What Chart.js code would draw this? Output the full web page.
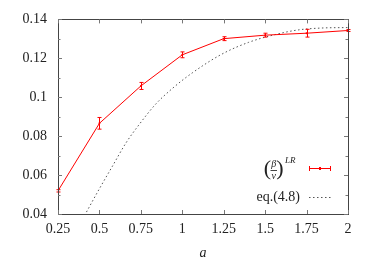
<!DOCTYPE html>
<html>
<head>
<meta charset="utf-8">
<script src="https://cdn.jsdelivr.net/npm/chart.js@4"></script>
<style>
  html, body { margin: 0; padding: 0; background: #fff; }
</style>
</head>
<body>
<canvas id="betaChart" width="374" height="262"></canvas>
<script>
// measured beta/nu (LR) with error bars
const aValues = [0.25, 0.5, 0.75, 1, 1.25, 1.5, 1.75, 2];
const betaNu = [0.0519, 0.0866, 0.1058, 0.1218, 0.1301, 0.1319, 0.1329, 0.1343];
const betaNuErr = [0.0006, 0.003, 0.0018, 0.0015, 0.001, 0.001, 0.002, 0.0005];

// eq.(4.8) curve
const eqA = [0.41, 0.5, 0.58, 0.66, 0.74, 0.84, 0.94, 1.06, 1.24, 1.4, 1.56, 1.7, 1.85, 2];
const eqValues = [0.0392, 0.053, 0.0648, 0.0765, 0.086, 0.0965, 0.1045, 0.1125, 0.1222, 0.1282, 0.1322, 0.1346, 0.1356, 0.1358];

const xTicks = [0.25, 0.5, 0.75, 1, 1.25, 1.5, 1.75, 2];
const yTicks = [0.04, 0.06, 0.08, 0.1, 0.12, 0.14];

const serif = '"Liberation Serif", "DejaVu Serif", serif';
const axisColor = "#444";

const frame = {
  id: "frame",
  afterDatasetsDraw(chart) {
    const { ctx, chartArea: ca, scales } = chart;
    const x = scales.x, y = scales.y;
    ctx.save();

    // error bars
    ctx.strokeStyle = "#ff0000";
    ctx.lineWidth = 1;
    aValues.forEach((a, i) => {
      const px = Math.round(x.getPixelForValue(a)) + 0.5;
      const lo = y.getPixelForValue(betaNu[i] - betaNuErr[i]);
      const hi = y.getPixelForValue(betaNu[i] + betaNuErr[i]);
      ctx.beginPath();
      ctx.moveTo(px, lo); ctx.lineTo(px, hi);
      ctx.moveTo(px - 2, lo); ctx.lineTo(px + 2, lo);
      ctx.moveTo(px - 2, hi); ctx.lineTo(px + 2, hi);
      ctx.stroke();
    });

    // border
    ctx.strokeStyle = axisColor;
    ctx.lineWidth = 1;
    ctx.strokeRect(Math.round(ca.left) + 0.5, Math.round(ca.top) + 0.5,
      Math.round(ca.width), Math.round(ca.height));

    // inward ticks
    ctx.strokeStyle = "#777";
    ctx.beginPath();
    xTicks.forEach(v => {
      const px = Math.round(x.getPixelForValue(v)) + 0.5;
      ctx.moveTo(px, ca.bottom); ctx.lineTo(px, ca.bottom - 4);
      ctx.moveTo(px, ca.top); ctx.lineTo(px, ca.top + 4);
    });
    yTicks.forEach((v, i) => {
      const py = Math.round(y.getPixelForValue(v)) + 0.5;
      ctx.moveTo(ca.left, py); ctx.lineTo(ca.left + 4, py);
      ctx.moveTo(ca.right, py); ctx.lineTo(ca.right - 4, py);
      if (i < yTicks.length - 1) {
        const pm = Math.round(y.getPixelForValue((v + yTicks[i + 1]) / 2)) + 0.5;
        ctx.moveTo(ca.left, pm); ctx.lineTo(ca.left + 2.5, pm);
        ctx.moveTo(ca.right, pm); ctx.lineTo(ca.right - 2.5, pm);
      }
    });
    ctx.stroke();

    // legend
    ctx.fillStyle = "#222";
    ctx.textBaseline = "middle";
    ctx.textAlign = "center";
    ctx.font = "22px " + serif;
    ctx.fillText("(", 267.5, 169);
    ctx.fillText(")", 280, 169);
    ctx.font = "italic 10px " + serif;
    ctx.fillText("β", 273.8, 164);
    ctx.fillText("ν", 273.8, 176);
    ctx.strokeStyle = "#444";
    ctx.beginPath();
    ctx.moveTo(270.5, 170.5); ctx.lineTo(277, 170.5);
    ctx.stroke();
    ctx.textAlign = "left";
    ctx.font = "italic 9px " + serif;
    ctx.fillText("LR", 285, 161);
    ctx.textAlign = "right";
    ctx.font = "14px " + serif;
    ctx.fillText("eq.(4.8)", 300, 197);

    // legend samples
    ctx.strokeStyle = "#ff0000";
    ctx.beginPath();
    ctx.moveTo(309, 168.5); ctx.lineTo(331, 168.5);
    ctx.moveTo(309.5, 166); ctx.lineTo(309.5, 171);
    ctx.moveTo(330.5, 166); ctx.lineTo(330.5, 171);
    ctx.stroke();
    ctx.fillStyle = "#ff0000";
    ctx.fillRect(319, 167, 2, 3);
    ctx.strokeStyle = "#555";
    ctx.setLineDash([1.5, 2.5]);
    ctx.beginPath();
    ctx.moveTo(309, 197.5); ctx.lineTo(331, 197.5);
    ctx.stroke();

    ctx.restore();
  }
};

new Chart(document.getElementById("betaChart").getContext("2d"), {
  type: "scatter",
  data: {
    datasets: [
      {
        label: "LR",
        data: aValues.map((a, i) => ({ x: a, y: betaNu[i] })),
        showLine: true,
        borderColor: "#ff0000",
        backgroundColor: "#ff0000",
        borderWidth: 1,
        pointRadius: 1,
        pointBorderWidth: 0
      },
      {
        label: "eq.(4.8)",
        data: eqA.map((a, i) => ({ x: a, y: eqValues[i] })),
        showLine: true,
        borderColor: "#555",
        borderWidth: 1,
        borderDash: [1.5, 2.5],
        pointRadius: 0,
        cubicInterpolationMode: "monotone"
      }
    ]
  },
  options: {
    responsive: false,
    animation: false,
    events: [],
    layout: { padding: { top: 14, right: 26, left: 0, bottom: 0 } },
    plugins: {
      legend: { display: false },
      tooltip: { enabled: false }
    },
    scales: {
      x: {
        type: "linear",
        min: 0.25,
        max: 2,
        afterBuildTicks: s => { s.ticks = xTicks.map(v => ({ value: v })); },
        afterFit: s => { s.height = 48; },
        grid: { display: false, drawTicks: false },
        border: { display: false },
        ticks: {
          padding: 7,
          color: "#222",
          font: { family: serif, size: 14 },
          callback: v => String(v)
        },
        title: {
          display: true,
          text: "a",
          color: "#222",
          font: { family: serif, size: 14, style: "italic" },
          padding: { top: 4, bottom: 0 }
        }
      },
      y: {
        type: "linear",
        min: 0.04,
        max: 0.14,
        afterBuildTicks: s => { s.ticks = yTicks.map(v => ({ value: v })); },
        afterFit: s => { s.width = 58; },
        grid: { display: false, drawTicks: false },
        border: { display: false },
        ticks: {
          padding: 11,
          color: "#222",
          font: { family: serif, size: 14 },
          callback: v => String(v)
        }
      }
    }
  },
  plugins: [frame]
});
</script>
</body>
</html>
